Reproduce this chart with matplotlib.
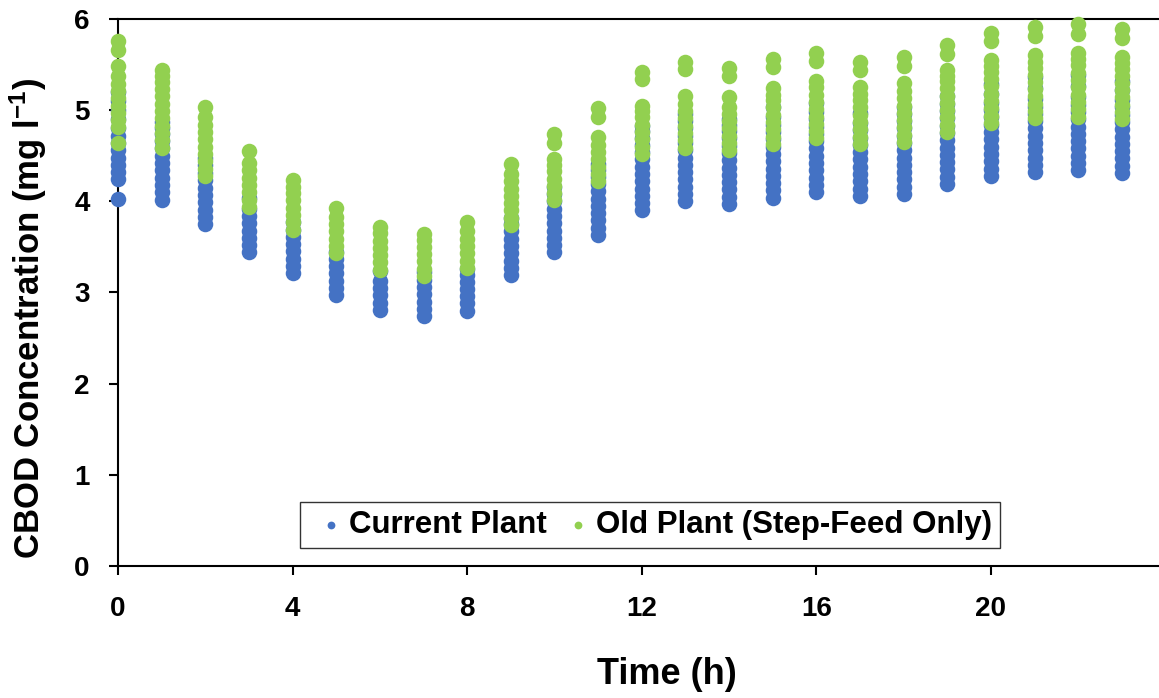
import matplotlib
matplotlib.use("Agg")
import matplotlib.pyplot as plt

# hourly CBOD readings (mg/l), one list per hour of the day
hours = list(range(24))

current_plant = [
    [4.03, 4.24, 4.32, 4.40, 4.48, 4.56, 4.64, 4.72, 4.80, 4.90, 5.00, 5.10, 5.20],
    [4.02, 4.10, 4.18, 4.26, 4.34, 4.42, 4.50, 4.58, 4.66, 4.74, 4.80, 4.87],
    [3.75, 3.83, 3.91, 3.99, 4.07, 4.15, 4.23, 4.31, 4.40, 4.48],
    [3.44, 3.52, 3.60, 3.68, 3.76, 3.84, 3.92, 4.04],
    [3.21, 3.29, 3.37, 3.45, 3.53, 3.61, 3.69, 3.77],
    [2.97, 3.05, 3.13, 3.21, 3.29, 3.37, 3.44],
    [2.81, 2.89, 2.97, 3.05, 3.13, 3.24],
    [2.74, 2.82, 2.90, 2.98, 3.06, 3.14, 3.22],
    [2.80, 2.88, 2.96, 3.04, 3.12, 3.19, 3.26],
    [3.19, 3.27, 3.35, 3.43, 3.51, 3.59, 3.67, 3.75, 3.82],
    [3.44, 3.52, 3.60, 3.68, 3.76, 3.84, 3.92, 4.00, 4.08, 4.16],
    [3.63, 3.71, 3.79, 3.87, 3.95, 4.03, 4.11, 4.19, 4.27, 4.34, 4.41],
    [3.90, 3.98, 4.06, 4.14, 4.22, 4.30, 4.38, 4.46, 4.54, 4.62, 4.70, 4.77, 4.83],
    [4.00, 4.08, 4.16, 4.24, 4.32, 4.40, 4.48, 4.56, 4.64, 4.72, 4.80, 4.88, 4.96],
    [3.97, 4.05, 4.13, 4.21, 4.29, 4.37, 4.45, 4.53, 4.61, 4.69, 4.77, 4.84, 4.90],
    [4.04, 4.12, 4.20, 4.28, 4.36, 4.44, 4.52, 4.60, 4.68, 4.76, 4.84, 4.92, 5.03],
    [4.10, 4.18, 4.26, 4.34, 4.42, 4.50, 4.58, 4.66, 4.74, 4.82, 4.90, 4.98, 5.08],
    [4.06, 4.14, 4.22, 4.30, 4.38, 4.46, 4.54, 4.62, 4.70, 4.78, 4.86, 4.97],
    [4.08, 4.16, 4.24, 4.32, 4.40, 4.48, 4.56, 4.64, 4.72, 4.80, 4.88, 4.96, 5.03],
    [4.19, 4.27, 4.35, 4.43, 4.51, 4.59, 4.67, 4.75, 4.83, 4.91, 4.99, 5.07, 5.15],
    [4.28, 4.36, 4.44, 4.52, 4.60, 4.68, 4.76, 4.84, 4.92, 5.00, 5.08, 5.18, 5.29],
    [4.32, 4.40, 4.48, 4.56, 4.64, 4.72, 4.80, 4.88, 4.96, 5.04, 5.12, 5.24, 5.36],
    [4.34, 4.42, 4.50, 4.58, 4.66, 4.74, 4.82, 4.90, 4.98, 5.06, 5.14, 5.26, 5.39],
    [4.31, 4.39, 4.47, 4.55, 4.63, 4.71, 4.79, 4.87, 4.95, 5.03, 5.11, 5.22, 5.32],
]

old_plant = [
    [4.64, 4.81, 4.89, 4.97, 5.05, 5.13, 5.21, 5.29, 5.37, 5.48, 5.66, 5.76],
    [4.59, 4.67, 4.75, 4.83, 4.91, 4.99, 5.07, 5.15, 5.23, 5.31, 5.38, 5.44],
    [4.28, 4.36, 4.44, 4.52, 4.60, 4.68, 4.76, 4.84, 4.92, 5.03],
    [3.94, 4.02, 4.10, 4.18, 4.26, 4.34, 4.42, 4.55],
    [3.69, 3.77, 3.85, 3.93, 4.01, 4.09, 4.16, 4.23],
    [3.43, 3.51, 3.59, 3.67, 3.75, 3.83, 3.93],
    [3.25, 3.33, 3.41, 3.49, 3.57, 3.65, 3.72],
    [3.18, 3.26, 3.34, 3.42, 3.50, 3.58, 3.64],
    [3.27, 3.35, 3.43, 3.51, 3.59, 3.67, 3.77],
    [3.74, 3.82, 3.90, 3.98, 4.06, 4.14, 4.22, 4.30, 4.41],
    [4.01, 4.09, 4.17, 4.25, 4.33, 4.40, 4.46, 4.64, 4.74],
    [4.22, 4.30, 4.38, 4.46, 4.54, 4.62, 4.71, 4.92, 5.02],
    [4.52, 4.60, 4.68, 4.76, 4.84, 4.92, 4.99, 5.05, 5.34, 5.42],
    [4.59, 4.67, 4.75, 4.83, 4.91, 4.99, 5.07, 5.16, 5.45, 5.53],
    [4.56, 4.64, 4.72, 4.80, 4.88, 4.96, 5.04, 5.14, 5.37, 5.46],
    [4.63, 4.71, 4.79, 4.87, 4.95, 5.03, 5.11, 5.17, 5.24, 5.47, 5.56],
    [4.69, 4.77, 4.85, 4.93, 5.01, 5.09, 5.17, 5.25, 5.32, 5.54, 5.63],
    [4.63, 4.71, 4.79, 4.87, 4.95, 5.03, 5.11, 5.18, 5.25, 5.44, 5.53],
    [4.65, 4.73, 4.81, 4.89, 4.97, 5.05, 5.13, 5.21, 5.30, 5.48, 5.58],
    [4.76, 4.84, 4.92, 5.00, 5.08, 5.16, 5.24, 5.32, 5.38, 5.44, 5.62, 5.72],
    [4.86, 4.94, 5.02, 5.10, 5.18, 5.26, 5.34, 5.42, 5.48, 5.55, 5.76, 5.85],
    [4.91, 4.99, 5.07, 5.15, 5.23, 5.31, 5.39, 5.46, 5.53, 5.60, 5.81, 5.91],
    [4.93, 5.01, 5.09, 5.17, 5.25, 5.33, 5.41, 5.49, 5.56, 5.63, 5.84, 5.94],
    [4.90, 4.98, 5.06, 5.14, 5.22, 5.30, 5.38, 5.45, 5.52, 5.58, 5.79, 5.89],
]

x_ticks = [0, 4, 8, 12, 16, 20]
y_ticks = [0, 1, 2, 3, 4, 5, 6]

plt.rcParams['font.family'] = ['Liberation Sans', 'DejaVu Sans']
plt.rcParams['font.weight'] = 'bold'
plt.rcParams['mathtext.fontset'] = 'custom'
plt.rcParams['mathtext.rm'] = 'Liberation Sans:bold'
plt.rcParams['mathtext.default'] = 'regular'


def flatten(series):
    xs, ys = [], []
    for h, vals in zip(hours, series):
        xs += [h] * len(vals)
        ys += vals
    return xs, ys


fig = plt.figure(figsize=(11.59, 6.98), dpi=100)
ax = fig.add_axes([0.1018, 0.1891, 0.8982, 0.7837])

cx, cy = flatten(current_plant)
ox, oy = flatten(old_plant)
ax.scatter(cx, cy, s=125, color='#4472C4', linewidths=0, clip_on=False,
           label='Current Plant', zorder=3)
ax.scatter(ox, oy, s=125, color='#92D050', linewidths=0, clip_on=False,
           label='Old Plant (Step-Feed Only)', zorder=4)

ax.set_xlim(0, 23.85)
ax.set_ylim(0, 6)
ax.set_xticks(x_ticks)
ax.set_yticks(y_ticks)
ax.tick_params(axis='both', direction='out', length=6.5, width=1.5,
               labelsize=20, color='black')
ax.tick_params(axis='x', pad=15)
ax.tick_params(axis='y', pad=14)

for side in ['left', 'bottom', 'top']:
    ax.spines[side].set_linewidth(1.5)
    ax.spines[side].set_color('black')
ax.spines['right'].set_visible(False)

ax.set_xlabel('Time (h)', fontsize=26, fontweight='bold')
ax.set_ylabel('CBOD Concentration (mg l$^{-1}$)', fontsize=25,
              fontweight='bold')
ax.xaxis.set_label_coords(0.527, -0.199)
ax.yaxis.set_label_coords(-0.0865, 0.453)
ax.xaxis.label.set_verticalalignment('center')
ax.yaxis.label.set_verticalalignment('center')

leg = ax.legend(loc='center', bbox_to_anchor=(0.511, 0.075), ncol=2,
                fontsize=22.5, markerscale=0.5, handletextpad=-0.15,
                handlelength=1.45, columnspacing=0.28, frameon=True,
                fancybox=False, borderpad=0.25, borderaxespad=0)
leg.get_frame().set_edgecolor('black')
leg.get_frame().set_linewidth(1.0)

fig.savefig('out.png', dpi=100)
